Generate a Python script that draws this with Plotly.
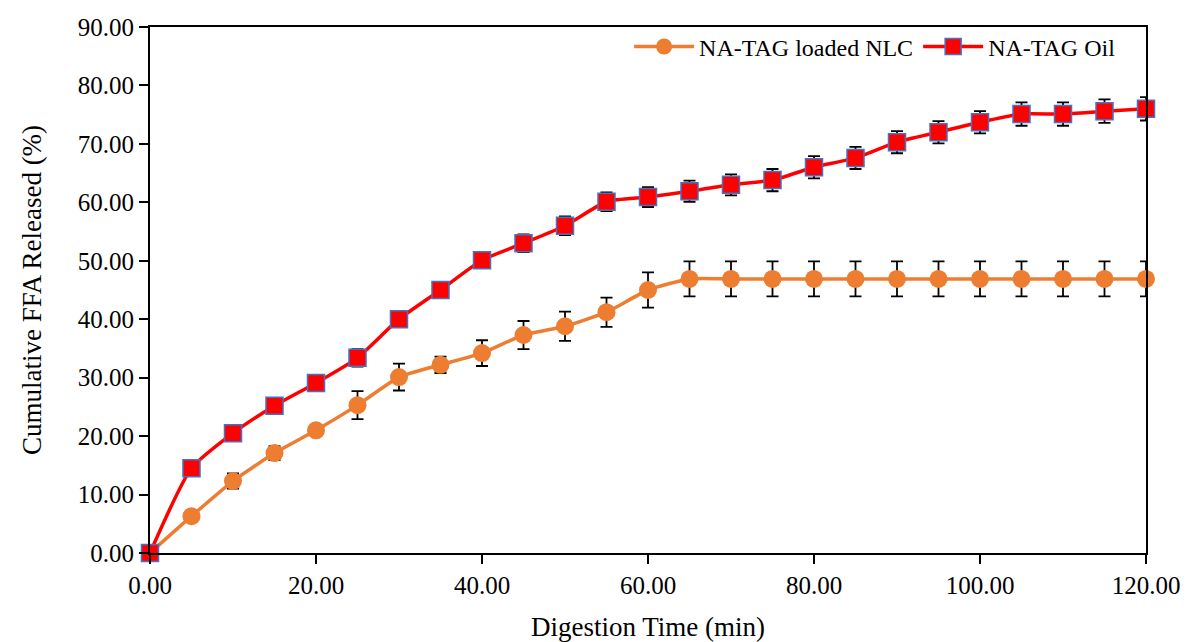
import plotly.graph_objects as go

time_min = [0, 5, 10, 15, 20, 25, 30, 35, 40, 45, 50, 55, 60, 65, 70, 75, 80, 85, 90, 95, 100, 105, 110, 115, 120]
nlc_values = [0, 6.3, 12.3, 17.1, 21.0, 25.3, 30.1, 32.2, 34.2, 37.3, 38.8, 41.2, 45.0, 46.9, 46.9, 46.9, 46.9, 46.9, 46.9, 46.9, 46.9, 46.9, 46.9, 46.9, 46.9]
nlc_err = [0, 0.5, 1.3, 1.2, 0.8, 2.4, 2.3, 1.4, 2.2, 2.4, 2.5, 2.5, 3.0, 3.0, 3.0, 3.0, 3.0, 3.0, 3.0, 3.0, 3.0, 3.0, 3.0, 3.0, 3.0]
oil_values = [0, 14.5, 20.5, 25.2, 29.1, 33.4, 40.0, 45.0, 50.1, 53.0, 56.0, 60.1, 60.9, 61.9, 63.0, 63.8, 66.0, 67.6, 70.3, 72.0, 73.7, 75.1, 75.1, 75.6, 76.0]
oil_err = [0, 0.5, 1.0, 1.0, 1.0, 1.5, 1.0, 1.2, 1.2, 1.5, 1.6, 1.6, 1.7, 1.8, 1.8, 1.9, 1.9, 1.9, 1.9, 1.9, 1.9, 2.0, 2.0, 2.0, 2.0]
x_ticks = [0, 20, 40, 60, 80, 100, 120]
y_ticks = [0, 10, 20, 30, 40, 50, 60, 70, 80, 90]

font = "Liberation Serif, Times New Roman, serif"

fig = go.Figure()
fig.add_trace(go.Scatter(
    x=time_min, y=nlc_values, name="NA-TAG loaded NLC",
    mode="lines+markers", line=dict(color="#ED7D31", width=3.5, shape="spline", smoothing=0.5),
    marker=dict(symbol="circle", size=18, color="#ED7D31"),
    error_y=dict(type="data", array=nlc_err, color="black", thickness=1.8, width=6),
    cliponaxis=False,
))
fig.add_trace(go.Scatter(
    x=time_min, y=oil_values, name="NA-TAG Oil",
    mode="lines+markers", line=dict(color="#FF0000", width=3.5, shape="spline", smoothing=0.6),
    marker=dict(symbol="square", size=17, color="#FF0000", line=dict(color="#4472C4", width=1.5)),
    error_y=dict(type="data", array=oil_err, color="black", thickness=1.8, width=6),
    cliponaxis=False,
))

fig.update_layout(
    width=1187, height=642,
    margin=dict(l=150, r=41, t=27, b=89),
    plot_bgcolor="white", paper_bgcolor="white",
    font=dict(family=font, size=26, color="black"),
    showlegend=True,
    legend=dict(orientation="h", x=0.975, y=1.005, xanchor="right", yanchor="top",
                font=dict(family=font, size=24, color="black"), bgcolor="rgba(0,0,0,0)",
                itemwidth=60, tracegroupgap=0),
    xaxis=dict(range=[0, 120], tickvals=x_ticks, ticktext=[f"{v:.2f}" for v in x_ticks],
               showgrid=False, zeroline=False, showline=True, linecolor="black", linewidth=2,
               mirror=True, ticks="outside", ticklen=9, tickwidth=2, tickcolor="black",
               automargin=False,
               title=dict(text="Digestion Time (min)", font=dict(family=font, size=27), standoff=22),
               tickfont=dict(family=font, size=25)),
    yaxis=dict(range=[0, 90], tickvals=y_ticks, ticktext=[f"{v:.2f}" for v in y_ticks],
               showgrid=False, zeroline=False, showline=True, linecolor="black", linewidth=2,
               mirror=True, ticks="outside", ticklen=9, tickwidth=2, tickcolor="black",
               automargin=False,
               title=dict(text="Cumulative FFA Released (%)", font=dict(family=font, size=27), standoff=28),
               tickfont=dict(family=font, size=25)),
)

fig.write_html("out.html")
